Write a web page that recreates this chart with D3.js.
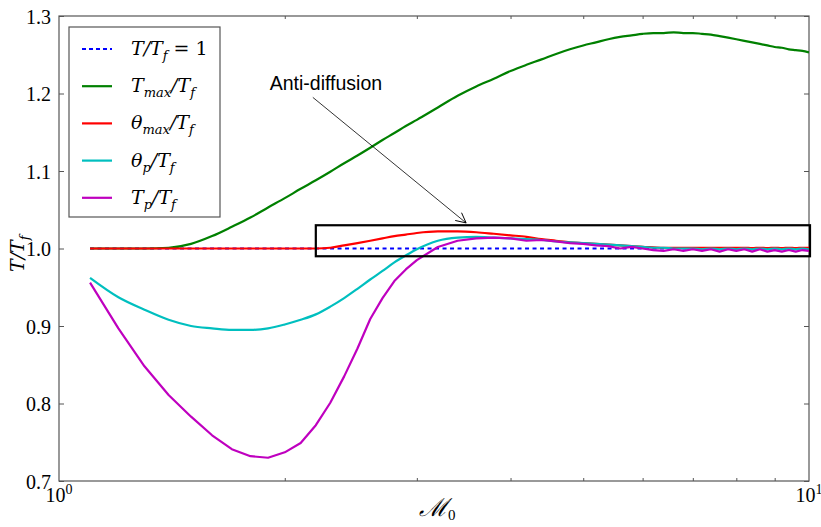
<!DOCTYPE html>
<html>
<head>
<meta charset="utf-8">
<script src="https://cdn.jsdelivr.net/npm/d3@7"></script>
<style>
    body { margin: 0; background: #fff; }
    svg { display: block; }
</style>
</head>
<body>
<div id="chart"></div>
<script>
"use strict";

// Mach numbers (shared grid for every curve)
const mach = [1.1, 1.2, 1.3, 1.4, 1.5, 1.6, 1.7, 1.8, 1.9, 2.0,
    2.1, 2.2, 2.3, 2.4, 2.5, 2.6, 2.7, 2.8, 2.9, 3.0,
    3.2, 3.4, 3.6, 3.8, 4.0, 4.2, 4.4, 4.6, 4.8, 5.0,
    5.2, 5.4, 5.6, 5.8, 6.0, 6.2, 6.4, 6.6, 6.8, 7.0,
    7.2, 7.4, 7.6, 7.8, 8.0, 8.2, 8.4, 8.6, 8.8, 9.0,
    9.2, 9.4, 9.6, 9.8, 10.0];

const unity = [1.0, 1.0];
const unityMach = [1.1, 10.0];

const tMax = [1.000, 1.000, 1.000, 1.001, 1.006, 1.016, 1.028, 1.040, 1.053, 1.065,
    1.077, 1.088, 1.099, 1.110, 1.120, 1.130, 1.140, 1.149, 1.158, 1.166,
    1.182, 1.197, 1.209, 1.219, 1.229, 1.237, 1.244, 1.251, 1.257, 1.262,
    1.266, 1.270, 1.273, 1.275, 1.277, 1.278, 1.278, 1.279, 1.278, 1.278,
    1.277, 1.276, 1.274, 1.272, 1.270, 1.268, 1.266, 1.264, 1.262, 1.260,
    1.259, 1.257, 1.256, 1.255, 1.253];

const thetaMax = [1.000, 1.000, 1.000, 1.000, 1.000, 1.000, 1.000, 1.000, 1.000, 1.000,
    1.000, 1.000, 1.001, 1.004, 1.007, 1.010, 1.013, 1.016, 1.018, 1.020,
    1.022, 1.022, 1.021, 1.019, 1.017, 1.015, 1.012, 1.010, 1.008, 1.007,
    1.006, 1.005, 1.004, 1.003, 1.002, 1.0015, 1.001, 1.001, 1.001, 1.001,
    1.001, 1.001, 1.001, 1.001, 1.001, 1.001, 1.0005, 1.001, 1.0005, 1.001,
    1.0005, 1.001, 1.0005, 1.001, 1.001];

const thetaP = [0.962, 0.937, 0.921, 0.908, 0.900, 0.897, 0.895, 0.895, 0.897, 0.902,
    0.908, 0.915, 0.925, 0.936, 0.948, 0.960, 0.971, 0.982, 0.991, 0.999,
    1.010, 1.014, 1.015, 1.014, 1.013, 1.012, 1.011, 1.009, 1.008, 1.007,
    1.006, 1.005, 1.004, 1.003, 1.002, 1.001, 1.001, 1.000, 1.000, 1.000,
    0.999, 1.000, 0.999, 1.000, 0.999, 1.000, 0.999, 1.000, 0.999, 1.000,
    0.999, 1.000, 0.999, 1.000, 0.999];

const tP = [0.956, 0.897, 0.848, 0.811, 0.783, 0.759, 0.741, 0.732, 0.730, 0.737,
    0.749, 0.772, 0.801, 0.835, 0.871, 0.909, 0.936, 0.958, 0.973, 0.985,
    1.002, 1.010, 1.013, 1.014, 1.013, 1.010, 1.011, 1.009, 1.007, 1.006,
    1.004, 1.003, 1.000, 1.002, 1.000, 0.998, 0.997, 0.999, 0.997, 0.999,
    0.997, 0.999, 0.996, 0.999, 0.997, 0.999, 0.996, 0.999, 0.996, 0.998,
    0.996, 0.998, 0.996, 0.998, 0.997];

const yTicks = [0.7, 0.8, 0.9, 1.0, 1.1, 1.2, 1.3];
const xMajor = [1, 10];
const xMinor = [2, 3, 4, 5, 6, 7, 8, 9];

// box around the anti-diffusion zone and its label
const zoneMach = [2.2, 10];
const zoneT = [0.99, 1.03];
const noteText = "Anti-diffusion";
const notePos = [1.91, 1.205];
const arrowFrom = [2.18, 1.195];
const arrowTo = [3.49, 1.033];

const cont = {
    width: 821,
    height: 527,
    left: 59,
    right: 809,
    top: 16,
    bottom: 481,
}

const serif = "'Liberation Serif', 'DejaVu Serif', serif";
const mathSerif = "'DejaVu Serif', 'Liberation Serif', serif";
const axisGray = "#555";

window.onload = function () {
    let svg = d3.select("#chart")
        .append("svg")
        .attr("width", cont.width)
        .attr("height", cont.height);

    let x = d3.scaleLog()
        .domain([1, 10])
        .range([cont.left, cont.right]);

    let y = d3.scaleLinear()
        .domain([0.7, 1.3])
        .range([cont.bottom, cont.top]);

    svg.append("defs").append("clipPath")
        .attr("id", "plotClip")
        .append("rect")
        .attr("x", cont.left)
        .attr("y", cont.top)
        .attr("width", cont.right - cont.left)
        .attr("height", cont.bottom - cont.top);

    drawAxes(svg, x, y);

    let plot = svg.append("g").attr("clip-path", "url(#plotClip)");

    let series = [
        { name: "unity", xs: unityMach, ys: unity, color: "#0000ff", dash: "4,3.5", curve: d3.curveLinear },
        { name: "tMax", xs: mach, ys: tMax, color: "#008000", curve: d3.curveMonotoneX },
        { name: "thetaMax", xs: mach, ys: thetaMax, color: "#ff0000", curve: d3.curveMonotoneX },
        { name: "thetaP", xs: mach, ys: thetaP, color: "#00bfbf", curve: d3.curveMonotoneX },
        { name: "tP", xs: mach, ys: tP, color: "#bf00bf", curve: d3.curveLinear },
    ];

    series.forEach((s) => {
        let line = d3.line()
            .curve(s.curve)
            .x((d) => x(d[0]))
            .y((d) => y(d[1]));
        plot.append("path")
            .datum(d3.zip(s.xs, s.ys))
            .attr("fill", "none")
            .attr("stroke", s.color)
            .attr("stroke-width", 2.2)
            .attr("stroke-dasharray", s.dash || null)
            .attr("stroke-linejoin", "round")
            .attr("d", line);
    });

    svg.append("rect")
        .attr("x", x(zoneMach[0]))
        .attr("y", y(zoneT[1]))
        .attr("width", x(zoneMach[1]) - x(zoneMach[0]) + 1)
        .attr("height", y(zoneT[0]) - y(zoneT[1]))
        .attr("fill", "none")
        .attr("stroke", "#000")
        .attr("stroke-width", 2.2);

    makeAnnotation(svg, x, y);
    makeLegend(svg, series);
    makeLabels(svg);
}

function drawAxes(svg, x, y) {
    // frame
    svg.append("rect")
        .attr("x", cont.left)
        .attr("y", cont.top)
        .attr("width", cont.right - cont.left)
        .attr("height", cont.bottom - cont.top)
        .attr("fill", "none")
        .attr("stroke", axisGray)
        .attr("stroke-width", 1.2);

    let yLeft = d3.axisLeft(y)
        .tickValues(yTicks)
        .tickSize(-5)
        .tickPadding(8)
        .tickFormat(d3.format(".1f"));
    let gl = svg.append("g")
        .attr("transform", "translate(" + cont.left + ",0)")
        .call(yLeft);

    let yRight = d3.axisRight(y)
        .tickValues(yTicks)
        .tickSize(-5)
        .tickFormat("");
    let gr = svg.append("g")
        .attr("transform", "translate(" + cont.right + ",0)")
        .call(yRight);

    let xBottom = d3.axisBottom(x)
        .tickValues(xMinor)
        .tickSize(-3)
        .tickFormat("");
    let gb = svg.append("g")
        .attr("transform", "translate(0," + cont.bottom + ")")
        .call(xBottom);

    let xTop = d3.axisTop(x)
        .tickValues(xMinor)
        .tickSize(-3)
        .tickFormat("");
    let gt = svg.append("g")
        .attr("transform", "translate(0," + cont.top + ")")
        .call(xTop);

    [gl, gr, gb, gt].forEach((g) => {
        g.select(".domain").remove();
        g.selectAll(".tick line").attr("stroke", axisGray);
    });

    gl.selectAll(".tick text")
        .attr("font-family", serif)
        .attr("font-size", 20)
        .attr("fill", "#000")
        .attr("dy", "0.35em");

    // 10^0, 10^1 labels
    xMajor.forEach((v) => {
        let t = svg.append("text")
            .attr("x", x(v))
            .attr("y", cont.bottom + 21)
            .attr("text-anchor", "middle")
            .attr("font-family", serif)
            .attr("font-size", 20)
            .text("10");
        t.append("tspan")
            .attr("dy", -8)
            .attr("font-size", 14)
            .text(Math.round(Math.log10(v)));
    });
}

function makeAnnotation(svg, x, y) {
    svg.append("defs").append("marker")
        .attr("id", "openArrow")
        .attr("viewBox", "0 0 12 12")
        .attr("refX", 11)
        .attr("refY", 6)
        .attr("markerWidth", 12)
        .attr("markerHeight", 12)
        .attr("markerUnits", "userSpaceOnUse")
        .attr("orient", "auto")
        .append("path")
        .attr("d", "M1,1 L11,6 L1,11")
        .attr("fill", "none")
        .attr("stroke", "#000")
        .attr("stroke-width", 0.9);

    svg.append("line")
        .attr("x1", x(arrowFrom[0]))
        .attr("y1", y(arrowFrom[1]))
        .attr("x2", x(arrowTo[0]))
        .attr("y2", y(arrowTo[1]))
        .attr("stroke", "#000")
        .attr("stroke-width", 0.8)
        .attr("marker-end", "url(#openArrow)");

    svg.append("text")
        .attr("x", x(notePos[0]))
        .attr("y", y(notePos[1]))
        .attr("font-family", "'Liberation Sans', Arial, sans-serif")
        .attr("font-size", 19.5)
        .attr("fill", "#000")
        .text(noteText);
}

function makeLegend(svg, series) {
    let lg = svg.append("g");
    lg.append("rect")
        .attr("x", 69)
        .attr("y", 27)
        .attr("width", 151)
        .attr("height", 190)
        .attr("fill", "#fff")
        .attr("stroke", axisGray)
        .attr("stroke-width", 1.2);

    // label pieces: [text, isSubscript]
    let labels = [
        [["T/T", 0], ["f", 1], [" = 1", 0]],
        [["T", 0], ["max", 1], ["/T", 0], ["f", 1]],
        [["θ", 0], ["max", 1], ["/T", 0], ["f", 1]],
        [["θ", 0], ["p", 1], ["/T", 0], ["f", 1]],
        [["T", 0], ["p", 1], ["/T", 0], ["f", 1]],
    ];

    series.forEach((s, i) => {
        let cy = 49 + i * 37.2;
        lg.append("line")
            .attr("x1", 82)
            .attr("x2", 112)
            .attr("y1", cy)
            .attr("y2", cy)
            .attr("stroke", s.color)
            .attr("stroke-width", 2.2)
            .attr("stroke-dasharray", s.dash ? "4,3" : null);

        let t = lg.append("text")
            .attr("x", 131)
            .attr("y", cy + 6)
            .attr("font-family", mathSerif)
            .attr("font-style", "italic")
            .attr("font-size", 19);
        appendMath(t, labels[i]);
    });
}

function appendMath(t, parts) {
    let shifted = false;
    parts.forEach((p) => {
        let span = t.append("tspan").text(p[0]);
        if (p[1] && !shifted) {
            span.attr("dy", 5).attr("font-size", 13);
            shifted = true;
        } else if (p[1]) {
            span.attr("font-size", 13);
        } else if (shifted) {
            span.attr("dy", -5);
            shifted = false;
        }
        if (p[0].indexOf("=") >= 0) span.attr("font-style", "normal").attr("xml:space", "preserve");
    });
}

function makeLabels(svg) {
    let xl = svg.append("text")
        .attr("x", 419)
        .attr("y", 516)
        .attr("font-family", serif)
        .attr("font-size", 25)
        .attr("font-style", "italic")
        .text("ℳ");
    xl.append("tspan")
        .attr("dy", 4)
        .attr("font-size", 15)
        .attr("font-style", "normal")
        .text("0");

    let yl = svg.append("text")
        .attr("transform", "translate(24," + 272 + ") rotate(-90)")
        .attr("font-family", mathSerif)
        .attr("font-style", "italic")
        .attr("font-size", 19);
    appendMath(yl, [["T/T", 0], ["f", 1]]);
}
</script>
</body>
</html>
